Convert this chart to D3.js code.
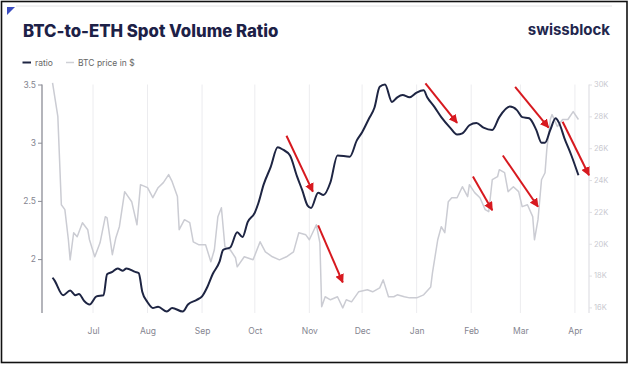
<!DOCTYPE html>
<html>
<head>
<meta charset="utf-8">
<script src="https://cdn.jsdelivr.net/npm/d3@7"></script>
<style>
  html, body { margin: 0; padding: 0; background: #fff; }
  svg { display: block; font-family: Inter, "Open Sans", sans-serif; }
</style>
</head>
<body>
<script>
// ratio series (BTC / ETH spot volume)
var ratioDates = [
  '2022-06-08', '2022-06-09', '2022-06-14', '2022-06-18', '2022-06-21', '2022-06-23',
  '2022-06-26', '2022-06-29', '2022-07-03', '2022-07-07', '2022-07-09', '2022-07-12',
  '2022-07-15', '2022-07-18', '2022-07-20', '2022-07-25', '2022-07-27', '2022-07-29',
  '2022-08-01', '2022-08-04', '2022-08-07', '2022-08-12', '2022-08-15', '2022-08-21',
  '2022-08-24', '2022-08-29', '2022-09-01', '2022-09-04', '2022-09-07', '2022-09-11',
  '2022-09-13', '2022-09-17', '2022-09-21', '2022-09-24', '2022-09-27', '2022-10-01',
  '2022-10-03', '2022-10-06', '2022-10-10', '2022-10-14', '2022-10-17', '2022-10-21',
  '2022-10-25', '2022-10-28', '2022-10-31', '2022-11-02', '2022-11-06', '2022-11-09',
  '2022-11-13', '2022-11-17', '2022-11-24', '2022-11-28', '2022-12-01', '2022-12-05',
  '2022-12-08', '2022-12-11', '2022-12-14', '2022-12-18', '2022-12-21', '2022-12-24',
  '2022-12-28', '2023-01-01', '2023-01-05', '2023-01-07', '2023-01-11', '2023-01-15',
  '2023-01-20', '2023-01-24', '2023-01-27', '2023-01-31', '2023-02-04', '2023-02-08',
  '2023-02-13', '2023-02-17', '2023-02-23', '2023-02-27', '2023-03-02', '2023-03-06',
  '2023-03-10', '2023-03-13', '2023-03-15', '2023-03-18', '2023-03-21', '2023-03-23',
  '2023-03-26', '2023-03-30', '2023-04-03'
];
var ratioValues = [
  1.84, 1.82, 1.69, 1.73, 1.69, 1.70,
  1.64, 1.61, 1.68, 1.69, 1.87, 1.89,
  1.92, 1.90, 1.92, 1.89, 1.88, 1.72,
  1.63, 1.58, 1.59, 1.55, 1.58, 1.55,
  1.61, 1.65, 1.68, 1.76, 1.87, 1.98,
  2.08, 2.10, 2.23, 2.19, 2.32, 2.40,
  2.48, 2.64, 2.79, 2.96, 2.94, 2.89,
  2.71, 2.59, 2.46, 2.44, 2.57, 2.55,
  2.66, 2.89, 2.88, 3.02, 3.09, 3.21,
  3.30, 3.48, 3.50, 3.35, 3.39, 3.41,
  3.39, 3.43, 3.45, 3.39, 3.31, 3.22,
  3.13, 3.07, 3.08, 3.15, 3.17, 3.13,
  3.11, 3.22, 3.31, 3.28, 3.22, 3.21,
  3.11, 3.00, 3.00, 3.11, 3.21, 3.17,
  3.04, 2.89, 2.72
];

// BTC price in $
var btcDates = [
  '2022-06-08', '2022-06-11', '2022-06-13', '2022-06-15', '2022-06-17', '2022-06-18',
  '2022-06-20', '2022-06-22', '2022-06-25', '2022-06-28', '2022-06-29', '2022-07-02',
  '2022-07-05', '2022-07-08', '2022-07-09', '2022-07-12', '2022-07-14', '2022-07-16',
  '2022-07-19', '2022-07-23', '2022-07-26', '2022-07-28', '2022-08-01', '2022-08-04',
  '2022-08-07', '2022-08-10', '2022-08-13', '2022-08-15', '2022-08-18', '2022-08-19',
  '2022-08-22', '2022-08-25', '2022-08-27', '2022-08-30', '2022-09-03', '2022-09-06',
  '2022-09-08', '2022-09-10', '2022-09-12', '2022-09-14', '2022-09-17', '2022-09-20',
  '2022-09-21', '2022-09-25', '2022-09-30', '2022-10-04', '2022-10-07', '2022-10-11',
  '2022-10-15', '2022-10-19', '2022-10-23', '2022-10-26', '2022-10-30', '2022-11-01',
  '2022-11-05', '2022-11-07', '2022-11-08', '2022-11-10', '2022-11-13', '2022-11-17',
  '2022-11-20', '2022-11-22', '2022-11-25', '2022-11-29', '2022-12-04', '2022-12-07',
  '2022-12-11', '2022-12-13', '2022-12-16', '2022-12-19', '2022-12-21', '2022-12-25',
  '2022-12-28', '2023-01-01', '2023-01-05', '2023-01-09', '2023-01-10', '2023-01-13',
  '2023-01-15', '2023-01-17', '2023-01-19', '2023-01-21', '2023-01-24', '2023-01-27',
  '2023-01-30', '2023-01-31', '2023-02-03', '2023-02-06', '2023-02-09', '2023-02-11',
  '2023-02-13', '2023-02-16', '2023-02-17', '2023-02-20', '2023-02-22', '2023-02-25',
  '2023-02-28', '2023-03-02', '2023-03-05', '2023-03-08', '2023-03-09', '2023-03-11',
  '2023-03-13', '2023-03-15', '2023-03-16', '2023-03-18', '2023-03-19', '2023-03-22',
  '2023-03-25', '2023-03-28', '2023-03-31', '2023-04-03'
];
var btcValues = [
  30100, 28000, 22450, 22140, 20250, 18990,
  20690, 20440, 21320, 20880, 20250, 19180,
  20060, 21700, 21630, 19310, 20380, 21070,
  23270, 22640, 21190, 23710, 23520, 22890,
  23520, 23840, 24340, 23900, 22960, 20880,
  21510, 21320, 20120, 19940, 19940, 18870,
  19620, 21700, 22260, 19810, 19620, 19120,
  18550, 19180, 18990, 20120, 19490, 19180,
  18990, 19180, 19490, 20690, 20560, 20250,
  21190, 20060, 16040, 16670, 16480, 16670,
  15970, 16480, 16350, 16980, 17110, 16980,
  17230, 17730, 16670, 16670, 16790, 16670,
  16600, 16600, 16790, 17290, 18170, 20250,
  21070, 20690, 22640, 22890, 22890, 23580,
  22960, 23710, 23210, 22890, 22140, 22010,
  24020, 24210, 24650, 24460, 23270, 23580,
  23270, 22330, 22450, 21700, 20250, 21510,
  24020, 24460, 25910, 27800, 28110, 27360,
  27800, 27800, 28300, 27800
];

// red annotation arrows: [start date, start ratio, end date, end ratio]
var arrows = [
  ['2022-10-19', 3.06, '2022-11-03', 2.58],
  ['2022-11-06', 2.29, '2022-11-20', 1.80],
  ['2023-01-06', 3.51, '2023-01-24', 3.17],
  ['2023-02-02', 2.71, '2023-02-13', 2.42],
  ['2023-02-19', 2.89, '2023-03-11', 2.45],
  ['2023-02-26', 3.48, '2023-03-17', 3.13],
  ['2023-03-25', 3.18, '2023-04-09', 2.72]
];

var ratioTicks = [2, 2.5, 3, 3.5];
var btcTicks = [16000, 18000, 20000, 22000, 24000, 26000, 28000, 30000];
var monthTicks = ['2022-07-01', '2022-08-01', '2022-09-01', '2022-10-01', '2022-11-01',
  '2022-12-01', '2023-01-01', '2023-02-01', '2023-03-01', '2023-04-01'];

var parse = d3.timeParse('%Y-%m-%d');

function drawChart() {
  var width = 629;
  var height = 368;
  var svg = d3.select('body').append('svg')
    .attr('width', width)
    .attr('height', height);

  // screenshot frame
  svg.append('rect')
    .attr('x', 1.5).attr('y', 1.5)
    .attr('width', 625.5).attr('height', 361)
    .attr('fill', '#fff')
    .attr('stroke', '#111')
    .attr('stroke-width', 1.6);
  svg.append('line')
    .attr('x1', 16).attr('x2', 612).attr('y1', 6).attr('y2', 6)
    .attr('stroke', '#e4e4e6').attr('stroke-width', 1);
  svg.append('path')
    .attr('d', 'M7,7L15,7L7,15Z')
    .attr('fill', '#3b4cc0');

  var plot = { left: 42, right: 589, top: 84.5, bottom: 313 };

  var x = d3.scaleTime()
    .domain([parse('2022-06-02'), parse('2023-04-09')])
    .range([plot.left, plot.right]);
  var yRatio = d3.scaleLinear()
    .domain([1.537, 3.5])
    .range([plot.bottom, plot.top]);
  var yBtc = d3.scaleLinear()
    .domain([15650, 30000])
    .range([plot.bottom, plot.top]);

  // title and brand
  svg.append('text')
    .attr('x', 23).attr('y', 37)
    .attr('font-size', 16.8).attr('font-weight', 800)
    .attr('fill', '#1d2147')
    .text('BTC-to-ETH Spot Volume Ratio');
  svg.append('text')
    .attr('x', 610).attr('y', 35)
    .attr('text-anchor', 'end')
    .attr('font-size', 15).attr('font-weight', 700)
    .attr('fill', '#22264d')
    .text('swissblock');

  // legend
  var legend = svg.append('g').attr('font-size', 8.5).attr('fill', '#666');
  legend.append('line').attr('x1', 22.5).attr('x2', 31).attr('y1', 62.5).attr('y2', 62.5)
    .attr('stroke', '#1e2543').attr('stroke-width', 2);
  legend.append('text').attr('x', 35).attr('y', 65.5).text('ratio');
  legend.append('line').attr('x1', 66).attr('x2', 74).attr('y1', 62.5).attr('y2', 62.5)
    .attr('stroke', '#cfd0d6').attr('stroke-width', 1.5);
  legend.append('text').attr('x', 78).attr('y', 65.5).text('BTC price in $');

  // month grid lines
  svg.append('g')
    .selectAll('line')
    .data(monthTicks)
    .enter()
    .append('line')
    .attr('x1', function (d) { return x(parse(d)); })
    .attr('x2', function (d) { return x(parse(d)); })
    .attr('y1', plot.top)
    .attr('y2', plot.bottom)
    .attr('stroke', '#ececef')
    .attr('stroke-width', 1);

  // x axis labels (no domain line)
  var xAxis = svg.append('g')
    .attr('transform', 'translate(0,' + (plot.bottom + 12) + ')')
    .call(d3.axisBottom(x)
      .tickValues(monthTicks.map(parse))
      .tickSize(0)
      .tickFormat(d3.timeFormat('%b')));
  xAxis.select('.domain').remove();
  xAxis.selectAll('text')
    .attr('font-family', 'Inter, sans-serif')
    .attr('font-size', 8.5)
    .attr('fill', '#858590');

  // left axis
  var leftAxis = svg.append('g')
    .attr('transform', 'translate(' + plot.left + ',0)')
    .call(d3.axisLeft(yRatio).tickValues(ratioTicks).tickSize(4).tickPadding(2)
      .tickFormat(d3.format('')));
  leftAxis.select('.domain')
    .attr('stroke', '#8c8d96').attr('stroke-width', 1.3)
    .attr('d', 'M0,' + plot.top + 'V' + plot.bottom);
  leftAxis.selectAll('.tick line').attr('stroke', '#8c8d96');
  leftAxis.selectAll('text')
    .attr('font-family', 'Inter, sans-serif')
    .attr('font-size', 8.5)
    .attr('fill', '#858590');

  // right axis
  var rightAxis = svg.append('g')
    .attr('transform', 'translate(' + plot.right + ',0)')
    .call(d3.axisRight(yBtc).tickValues(btcTicks).tickSize(3).tickPadding(2)
      .tickFormat(function (d) { return (d / 1000) + 'K'; }));
  rightAxis.select('.domain')
    .attr('stroke', '#e0e0e4').attr('stroke-width', 1.2)
    .attr('d', 'M0,' + plot.top + 'V' + plot.bottom);
  rightAxis.selectAll('.tick line').attr('stroke', '#e0e0e4');
  rightAxis.selectAll('text')
    .attr('font-family', 'Inter, sans-serif')
    .attr('font-size', 7.5)
    .attr('fill', '#c9c9cf');

  // BTC price line
  var btcLine = d3.line()
    .x(function (d, i) { return x(parse(btcDates[i])); })
    .y(function (d) { return yBtc(d); });
  svg.append('path')
    .datum(btcValues)
    .attr('d', btcLine)
    .attr('fill', 'none')
    .attr('stroke', '#cbccd3')
    .attr('stroke-width', 1.5)
    .attr('stroke-linejoin', 'round');

  // ratio line
  var ratioLine = d3.line()
    .curve(d3.curveMonotoneX)
    .x(function (d, i) { return x(parse(ratioDates[i])); })
    .y(function (d) { return yRatio(d); });
  svg.append('path')
    .datum(ratioValues)
    .attr('d', ratioLine)
    .attr('fill', 'none')
    .attr('stroke', '#1e2543')
    .attr('stroke-width', 2)
    .attr('stroke-linejoin', 'round');

  // arrows
  svg.append('defs').append('marker')
    .attr('id', 'head')
    .attr('viewBox', '0 0 10 10')
    .attr('refX', 9).attr('refY', 5)
    .attr('markerWidth', 4.5).attr('markerHeight', 4.5)
    .attr('markerUnits', 'strokeWidth')
    .attr('orient', 'auto')
    .append('path')
    .attr('d', 'M0,0L10,5L0,10Z')
    .attr('fill', '#d7191f');

  svg.append('g')
    .selectAll('line')
    .data(arrows)
    .enter()
    .append('line')
    .attr('x1', function (d) { return x(parse(d[0])); })
    .attr('y1', function (d) { return yRatio(d[1]); })
    .attr('x2', function (d) { return x(parse(d[2])); })
    .attr('y2', function (d) { return yRatio(d[3]); })
    .attr('stroke', '#d7191f')
    .attr('stroke-width', 2)
    .attr('marker-end', 'url(#head)');
}

drawChart();
</script>
</body>
</html>
